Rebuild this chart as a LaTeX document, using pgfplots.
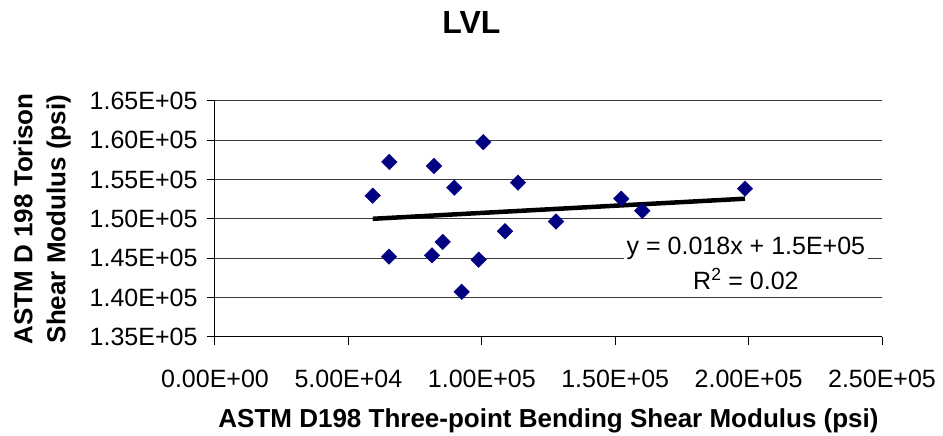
\documentclass[border=0pt]{standalone}
\usepackage{fontspec}
\setmainfont{Liberation Sans}
\usepackage{pgfplots}
\pgfplotsset{compat=1.18}
\definecolor{navy}{RGB}{0,0,128}
\definecolor{gridc}{RGB}{60,60,60}

\pgfplotstableread{
x y
59106 152962
65328 157251
65215 145213
82081 156740
81332 145379
85342 147089
89690 153983
92463 140745
98835 144830
100559 159766
108692 148442
113564 154621
127807 149681
152281 152579
160152 151047
198644 153855
}\lvldata

\begin{document}
\begin{tikzpicture}[x=1pt,y=1pt]
\path[use as bounding box] (-215,-99) rectangle (728,337);
\begin{axis}[
  at={(0,0)}, anchor=south west,
  width=667pt, height=236pt, scale only axis,
  xmin=0, xmax=250000, ymin=135000, ymax=165000,
  scaled ticks=false,
  axis lines*=left,
  axis line style={-, black, line width=1pt},
  xtick={0,50000,100000,150000,200000,250000},
  xticklabels={0.00E+00,5.00E+04,1.00E+05,1.50E+05,2.00E+05,2.50E+05},
  ytick={135000,140000,145000,150000,155000,160000,165000},
  yticklabels={1.35E+05,1.40E+05,1.45E+05,1.50E+05,1.55E+05,1.60E+05,1.65E+05},
  tick align=outside,
  major tick length=8pt,
  tick style={black, line width=1pt},
  ymajorgrids,
  grid style={gridc, line width=1pt},
  tick label style={font=\fontsize{25}{30}\selectfont},
  xticklabel style={yshift=-22pt},
  yticklabel style={xshift=-6pt},
  xlabel={\textbf{ASTM D198 Three-point Bending Shear Modulus (psi)}},
  ylabel={\textbf{ASTM D 198 Torison}\\\textbf{Shear Modulus (psi)}},
  label style={font=\fontsize{26}{33}\selectfont},
  xlabel style={yshift=-14pt},
  ylabel style={align=center, yshift=12pt},
  clip=false,
]
\addplot[only marks, mark=square*, mark size=5.5pt,
  mark options={rotate=45, draw=navy, fill=navy}] table {\lvldata};
\addplot[black, line width=4.5pt] coordinates {(59106,150025) (198644,152579)};
\node[fill=white, align=center, inner sep=3pt,
  font=\fontsize{25}{35}\selectfont] at (axis cs:199000,144400)
  {y = 0.018x + 1.5E+05\\R\textsuperscript{2} = 0.02};
\end{axis}
\node[font=\fontsize{32}{38}\selectfont\bfseries] at (256.5,315) {LVL};
\end{tikzpicture}
\end{document}
